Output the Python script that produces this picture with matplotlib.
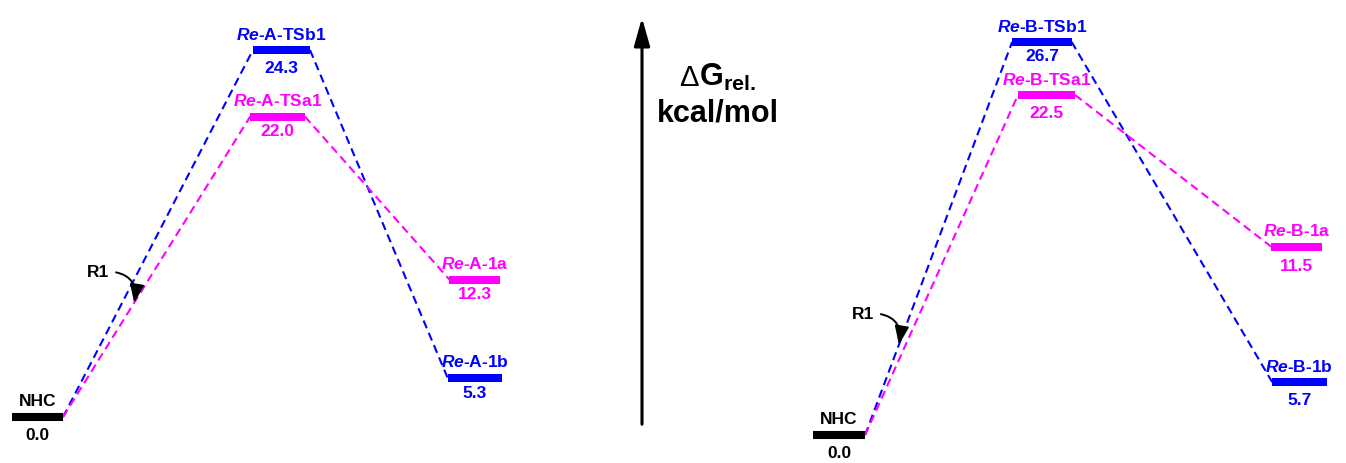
import matplotlib
matplotlib.use('Agg')
import matplotlib.pyplot as plt
from matplotlib.patches import FancyArrowPatch

plt.rcParams['font.family'] = ['Liberation Sans', 'DejaVu Sans']
plt.rcParams['mathtext.fontset'] = 'custom'
plt.rcParams['mathtext.rm'] = 'Liberation Sans'
plt.rcParams['mathtext.bf'] = 'Liberation Sans:bold'
plt.rcParams['mathtext.it'] = 'Liberation Sans:italic:bold'

# [1] data : state names, free energies (labels) and drawn level in the scheme (not to scale)
names_A = ['NHC', r'$\mathit{Re}$-A-TSb1', r'$\mathit{Re}$-A-TSa1', r'$\mathit{Re}$-A-1b', r'$\mathit{Re}$-A-1a']
dG_A = [0.0, 24.3, 22.0, 5.3, 12.3]
level_A = [0.0, 24.3, 19.9, 2.6, 9.1]

names_B = ['NHC', r'$\mathit{Re}$-B-TSb1', r'$\mathit{Re}$-B-TSa1', r'$\mathit{Re}$-B-1b', r'$\mathit{Re}$-B-1a']
dG_B = [0.0, 26.7, 22.5, 5.7, 11.5]
level_B = [0.0, 26.7, 23.1, 3.6, 12.8]

colors = ['black', '#0000FF', '#FF00FF', '#0000FF', '#FF00FF']
paths = [(0, 1, 3), (0, 2, 4)]   # NHC -> TSb1 -> 1b , NHC -> TSa1 -> 1a

# [2] layout (reaction coordinate positions, bar widths, value label offsets)
xpos_A = [0.0, 1.004, 0.988, 1.80, 1.80]
width_A = [0.21, 0.235, 0.225, 0.225, 0.21]
voff_A = [-13, -13, -11, -11, -11]
xpos_B = [0.0, 0.835, 0.854, 1.895, 1.883]
width_B = [0.215, 0.245, 0.235, 0.225, 0.21]
voff_B = [-13, -10.5, -13, -13, -14]

W, H = 1346, 463
fig = plt.figure(figsize=(W / 100, H / 100), dpi=100)
UNIT = 243.0   # px per reaction-coordinate unit
FS = 12.5


def panel(px0, px1, x_nhc, y0, ppk, names, dG, level, xpos, width, voff, r1_path, r1_t):
    ax = fig.add_axes([px0 / W, 0, (px1 - px0) / W, 1])
    ax.set_xlim((px0 - x_nhc) / UNIT, (px1 - x_nhc) / UNIT)
    ax.set_ylim((y0 - H) / ppk, y0 / ppk)
    ax.axis('off')

    # dashed connections
    for p in paths:
        for a, b in zip(p[:-1], p[1:]):
            xa = xpos[a] + width[a] / 2
            xb = xpos[b] - width[b] / 2
            ax.plot([xa, xb], [level[a], level[b]], color=colors[p[1]], lw=1.5,
                    dashes=(4.0, 2.4), zorder=1)

    # levels + labels
    for i in range(len(names)):
        x, w, y = xpos[i], width[i], level[i]
        ax.plot([x - w / 2, x + w / 2], [y, y], color=colors[i], lw=5.8,
                solid_capstyle='butt', zorder=2)
        ax.annotate(names[i], (x, y), xytext=(0, 11), textcoords='offset points',
                    ha='center', va='center', fontsize=FS, fontweight='bold', color=colors[i])
        ax.annotate(f'{dG[i]:.1f}', (x, y), xytext=(0, voff[i]), textcoords='offset points',
                    ha='center', va='center', fontsize=FS, fontweight='bold', color=colors[i])

    # R1 curved arrow
    a, b = r1_path
    xa = xpos[a] + width[a] / 2
    xb = xpos[b] - width[b] / 2
    tx = xa + r1_t * (xb - xa)
    ty = level[a] + r1_t * (level[b] - level[a])
    ax.annotate('R1', (tx, ty), xytext=(-26, 21.5), textcoords='offset points',
                ha='center', va='center', fontsize=FS, fontweight='bold', color='black',
                arrowprops=dict(arrowstyle='-|>,head_length=0.9,head_width=0.35',
                                connectionstyle='arc3,rad=-0.55', color='black', lw=1.4,
                                relpos=(1.0, 0.6), shrinkA=3, shrinkB=0))
    return ax


panel(0, 600, 37.5, 417, 15.10, names_A, dG_A, level_A, xpos_A, width_A, voff_A, (0, 2), 0.38)
panel(760, W, 839, 435, 14.72, names_B, dG_B, level_B, xpos_B, width_B, voff_B, (0, 1), 0.23)

# [3] energy axis arrow and label
fig.add_artist(FancyArrowPatch(
    (642 / W, 1 - 427 / H), (642 / W, 1 - 15 / H), transform=fig.transFigure,
    arrowstyle='-|>,head_length=17,head_width=4.8', lw=2.2, color='black', mutation_scale=1))
fig.text(699 / W, 1 - 86 / H, '\u0394', ha='right', va='baseline', fontsize=21, fontweight='normal')
fig.text(699 / W, 1 - 86 / H, r'G$_{\mathbf{rel.}}$', ha='left', va='baseline',
         fontsize=22, fontweight='bold')
fig.text(718 / W, 1 - 113 / H, 'kcal/mol', ha='center', va='center', fontsize=22, fontweight='bold')

fig.savefig('out.png', dpi=100, facecolor='white')
